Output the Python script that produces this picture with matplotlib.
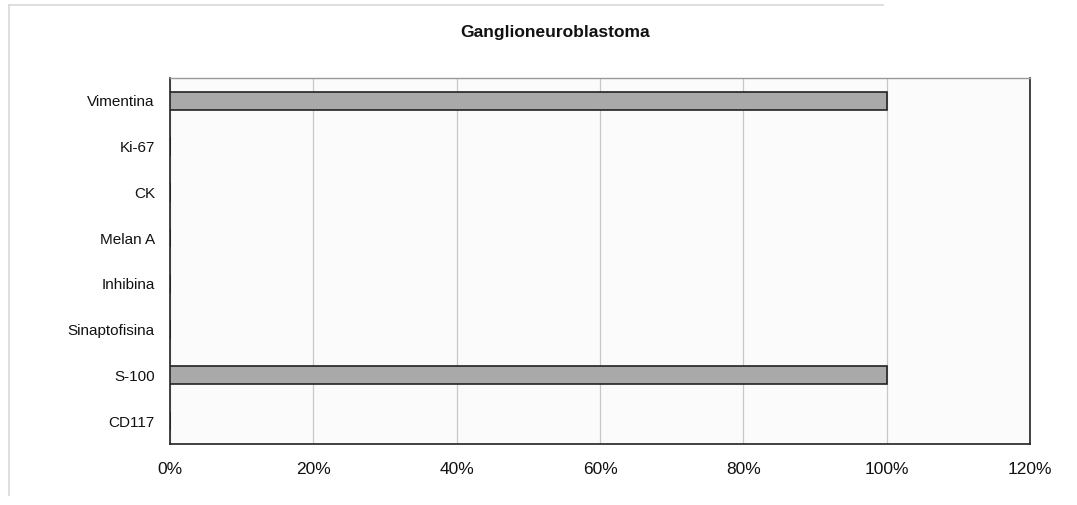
import matplotlib
matplotlib.use("Agg")
import matplotlib.pyplot as plt
from matplotlib.ticker import PercentFormatter, MultipleLocator
from matplotlib.lines import Line2D

plt.rcParams['font.family'] = ['Liberation Sans', 'DejaVu Sans']

# Immunohistochemistry markers, top to bottom
markers = ["Vimentina", "Ki-67", "CK", "Melan A", "Inhibina",
           "Sinaptofisina", "S-100", "CD117"]
positive = [1.0, 0.0, 0.0, 0.0, 0.0, 0.0, 1.0, 0.0]
title = "Ganglioneuroblastoma"

fig = plt.figure(figsize=(10.77, 5.05), dpi=100)
fig.patch.set_facecolor("white")
# faint outer chart frame (left and top edges)
fig.add_artist(Line2D([0.008, 0.008], [0.02, 0.99], transform=fig.transFigure,
                      color="#d8d8d8", linewidth=1.2))
fig.add_artist(Line2D([0.008, 0.82], [0.99, 0.99], transform=fig.transFigure,
                      color="#d8d8d8", linewidth=1.2))

ax = fig.add_axes([0.158, 0.121, 0.7983, 0.7245])
ax.set_facecolor("#fbfbfb")

y = list(range(len(markers)))[::-1]
ax.barh(y, positive, height=0.4, color="#a9a9a9", edgecolor="#222222",
        linewidth=1.2, zorder=3)

ax.set_xlim(0, 1.2)
ax.set_ylim(-0.5, len(markers) - 0.5)
ax.xaxis.set_major_locator(MultipleLocator(0.2))
ax.xaxis.set_major_formatter(PercentFormatter(1.0, decimals=0))
ax.set_yticks(y)
ax.set_yticklabels(markers)
ax.grid(axis="x", color="#c8c8c8", linewidth=0.9, zorder=0)
ax.tick_params(axis="both", length=0, colors="#111111")
ax.tick_params(axis="x", pad=13, labelsize=12.5)
ax.tick_params(axis="y", pad=11, labelsize=11)

for side in ["left", "bottom", "right"]:
    ax.spines[side].set_color("#222222")
    ax.spines[side].set_linewidth(1.2)
ax.spines["top"].set_color("#999999")
ax.spines["top"].set_linewidth(1.0)

fig.text(0.515, 0.935, title, ha="center", va="center",
         fontsize=12.5, fontweight="bold", color="#111111")

fig.savefig("out.png", dpi=100, facecolor="white")
